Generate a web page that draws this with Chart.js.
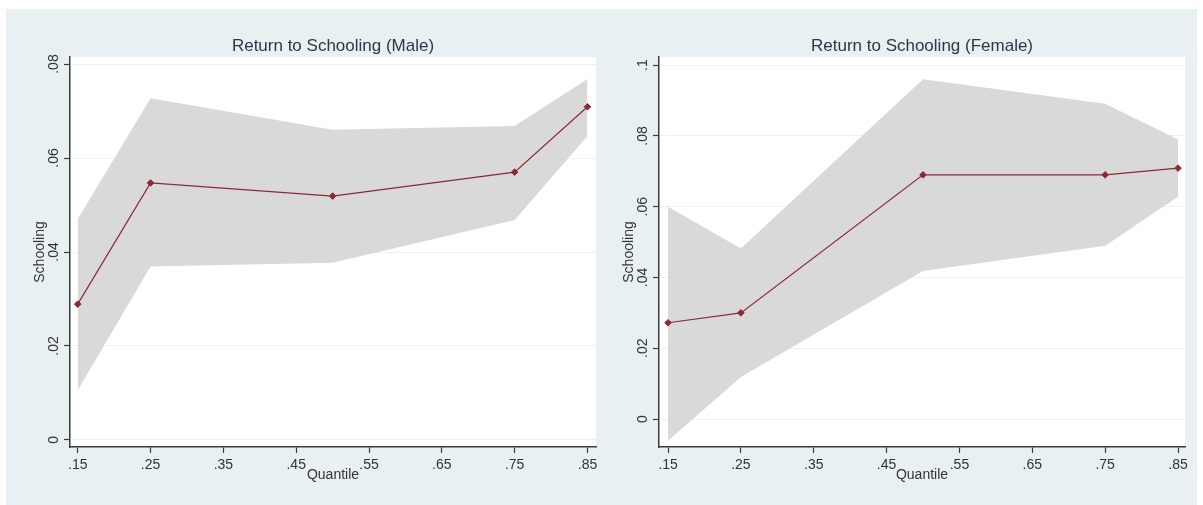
<!DOCTYPE html>
<html>
<head>
<meta charset="utf-8">
<script src="https://cdn.jsdelivr.net/npm/chart.js@4.4.1/dist/chart.umd.min.js"></script>
<style>
  html, body { margin: 0; padding: 0; background: #ffffff; }
  body { width: 1203px; height: 505px; position: relative; overflow: hidden; }
  #panel { position: absolute; left: 6px; top: 9px; width: 1191px; height: 496px; background: #e8f0f2; }
  canvas { position: absolute; top: 0; }
  #male { left: 0px; }
  #female { left: 596px; }
</style>
</head>
<body>
<div id="panel">
  <canvas id="male" width="596" height="496"></canvas>
  <canvas id="female" width="595" height="496"></canvas>
</div>
<script>
// ---- data ----
const quantiles   = [0.15, 0.25, 0.50, 0.75, 0.85];
const maleCoef    = [0.0289, 0.0547, 0.0519, 0.0570, 0.0709];
const maleUpper   = [0.0470, 0.0727, 0.0660, 0.0668, 0.0768];
const maleLower   = [0.0106, 0.0369, 0.0377, 0.0468, 0.0647];
const femaleCoef  = [0.0272, 0.0300, 0.0690, 0.0690, 0.0709];
const femaleUpper = [0.0600, 0.0482, 0.0960, 0.0891, 0.0790];
const femaleLower = [-0.0061, 0.0119, 0.0418, 0.0490, 0.0628];
const xTickValues    = [0.15, 0.25, 0.35, 0.45, 0.55, 0.65, 0.75, 0.85];
const maleYTicks     = [0, 0.02, 0.04, 0.06, 0.08];
const femaleYTicks   = [0, 0.02, 0.04, 0.06, 0.08, 0.1];
const titles = ['Return to Schooling (Male)', 'Return to Schooling (Female)'];
const xTitle = 'Quantile';
const yTitle = 'Schooling';

// ---- styling ----
const FONT = "'Liberation Sans', Arial, sans-serif";
const lineColor = '#8b2a36';
const bandColor = '#d9d9d9';
const axisColor = '#3c3c3c';
const gridColor = '#edf3f5';
const textColor = '#333333';
const titleColor = '#2e3648';

function fmt(v) {
  if (Math.abs(v) < 1e-9) return '0';
  return String(+v.toFixed(2)).replace(/^0/, '').replace(/^-0/, '-');
}
function pts(ys) { return quantiles.map((q, i) => ({x: q, y: ys[i]})); }

const whiteArea = {
  id: 'whiteArea',
  beforeDraw(chart) {
    const a = chart.chartArea, ctx = chart.ctx;
    ctx.save(); ctx.fillStyle = '#ffffff';
    ctx.fillRect(a.left, a.top, a.right - a.left, a.bottom - a.top);
    ctx.restore();
  }
};

function makeChart(id, cfg) {
  return new Chart(document.getElementById(id), {
    type: 'line',
    data: {
      datasets: [
        { data: pts(cfg.coef), borderColor: lineColor, borderWidth: 1.2, backgroundColor: lineColor,
          pointStyle: 'rectRot', pointRadius: 3.3, pointBorderWidth: 1, pointBorderColor: lineColor,
          tension: 0, fill: false },
        { data: pts(cfg.upper), borderWidth: 0, pointRadius: 0, borderColor: 'rgba(0,0,0,0)',
          backgroundColor: bandColor, fill: '+1', tension: 0 },
        { data: pts(cfg.lower), borderWidth: 0, pointRadius: 0, borderColor: 'rgba(0,0,0,0)',
          backgroundColor: bandColor, fill: false, tension: 0 }
      ]
    },
    options: {
      responsive: false, animation: false, devicePixelRatio: 1,
      layout: { autoPadding: false, padding: cfg.padding },
      plugins: {
        legend: { display: false }, tooltip: { enabled: false },
        title: { display: true, text: cfg.title, fullSize: false, color: titleColor,
                 font: { family: FONT, size: 17, weight: 'normal', lineHeight: 20/17 },
                 padding: { top: 27, bottom: 1 } }
      },
      scales: {
        x: {
          type: 'linear', min: cfg.xmin, max: cfg.xmax,
          afterBuildTicks: s => { s.ticks = xTickValues.map(v => ({value: v})); },
          afterFit: s => { s.height = 40; },
          ticks: { autoSkip: false, maxRotation: 0, padding: 3.5, color: textColor,
                   font: { family: FONT, size: 14 }, callback: v => fmt(v) },
          grid: { drawOnChartArea: false, drawTicks: true, tickLength: 6, tickColor: axisColor, tickWidth: 1.2 },
          border: { display: true, color: axisColor, width: 1.5 },
          title: { display: true, text: xTitle, color: textColor, font: { family: FONT, size: 14 },
                   padding: { top: 0, bottom: 3 } }
        },
        y: {
          type: 'linear', min: cfg.ymin, max: cfg.ymax,
          afterBuildTicks: s => { s.ticks = cfg.yticks.map(v => ({value: v})); },
          afterFit: s => { s.width = cfg.yw; },
          ticks: { minRotation: 90, maxRotation: 90, crossAlign: 'center', padding: cfg.ytp, color: textColor,
                   font: { family: FONT, size: 14 }, callback: v => fmt(v) },
          grid: { color: gridColor, lineWidth: 1, drawTicks: true, tickLength: 6, tickColor: axisColor, tickWidth: 1.2 },
          border: { display: true, color: axisColor, width: 1.5 },
          title: { display: true, text: yTitle, color: textColor, font: { family: FONT, size: 14 },
                   padding: { top: cfg.ytitlePad, bottom: 0 } }
        }
      }
    },
    plugins: [whiteArea]
  });
}

makeChart('male', {
  title: titles[0], coef: maleCoef, upper: maleUpper, lower: maleLower,
  xmin: 0.1394, xmax: 0.8617, ymin: -0.0015, ymax: 0.0815, yticks: maleYTicks,
  padding: { left: 0, right: 6, top: 0, bottom: 18 }, yw: 64, ytp: 0, ytitlePad: 25.5
});
makeChart('female', {
  title: titles[1], coef: femaleCoef, upper: femaleUpper, lower: femaleLower,
  xmin: 0.1376, xmax: 0.8596, ymin: -0.0079, ymax: 0.1023, yticks: femaleYTicks,
  padding: { left: 0, right: 12, top: 0, bottom: 18 }, yw: 57, ytp: 0.3, ytitlePad: 18.6
});
</script>
</body>
</html>
